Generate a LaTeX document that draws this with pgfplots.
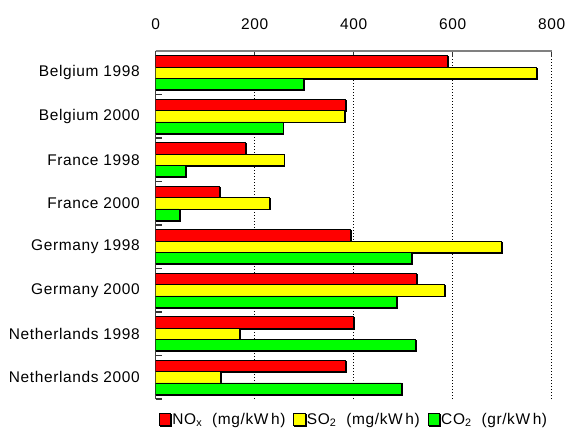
\documentclass[border=0pt]{standalone}
\usepackage{fontspec}
\setmainfont{Liberation Sans}[LetterSpace=4]
\usepackage{pgfplots}
\pgfplotsset{compat=1.18}
\usetikzlibrary{shadows}
\definecolor{nox}{HTML}{FF0000}
\definecolor{sox}{HTML}{FFFF00}
\definecolor{cox}{HTML}{00FF00}
\begin{document}
\begin{tikzpicture}
\path[use as bounding box] (-116.8pt,-21.75pt) rectangle (313.7pt,299.25pt);
\begin{axis}[
  at={(0,0)}, anchor=south west,
  scale only axis, width=297pt, height=261pt,
  xbar, bar width=0.26,
  xmin=0, xmax=800, ymin=-0.5, ymax=7.5,
  axis x line*=top, axis y line*=left,
  x axis line style={gray, line width=1.2pt},
  y axis line style={black!75, line width=1.1pt},
  xtick={0,200,400,600,800},
  ytick={-0.5,0.5,1.5,2.5,3.5,4.5,5.5,6.5,7.5},
  y tick label as interval,
  yticklabels={Netherlands 2000, Netherlands 1998, Germany 2000, Germany 1998, France 2000, France 1998, Belgium 2000, Belgium 1998\hspace{2.5pt}},
  tick align=inside,
  major tick length=4.5pt,
  tick style={black!80, line width=0.8pt},
  xmajorgrids,
  major x grid style={black, line width=0.7pt, dash pattern=on 0.75pt off 1.5pt},
  every tick label/.append style={font=\fontsize{11.6}{13}\selectfont},
  /pgf/number format/assume math mode=true,
  xticklabel style={inner sep=0pt, anchor=south, yshift=16pt},
  yticklabel style={inner sep=0pt, anchor=east, xshift=-11.8pt},
  shbar/.style={draw=black, line width=0.6pt, drop shadow={shadow xshift=0.7pt, shadow yshift=-0.7pt, fill=gray!80, opacity=1}},
  legend image code/.code={\draw[drop shadow/.style={},#1] (0pt,-4.5pt) rectangle (8.5pt,4.5pt);},
  legend style={draw=none, fill=none, at={(axis description cs:0.5,0)}, anchor=center, yshift=-15.4pt,
    legend columns=-1, font=\fontsize{11.6}{13}\selectfont, nodes={inner sep=1pt},
    /tikz/every even column/.append style={column sep=5pt}},
]
\addplot[shbar, fill=nox, bar shift=0.26] coordinates {(590,7) (384,6) (182,5) (129,4) (393,3) (527,2) (399,1) (384,0)};
\addplot[shbar, fill=sox, bar shift=0] coordinates {(770,7) (381,6) (259,5) (230,4) (699,3) (584,2) (170,1) (131,0)};
\addplot[shbar, fill=cox, bar shift=-0.26] coordinates {(298,7) (257,6) (60,5) (47,4) (517,3) (487,2) (525,1) (496,0)};
\addlegendentry{NO\textsubscript{x}\ \ (mg/kW\,h)}
\addlegendentry{SO\textsubscript{2}\ \ (mg/kW\,h)}
\addlegendentry{CO\textsubscript{2}\ \ (gr/kW\,h)}
\end{axis}
\end{tikzpicture}
\end{document}
